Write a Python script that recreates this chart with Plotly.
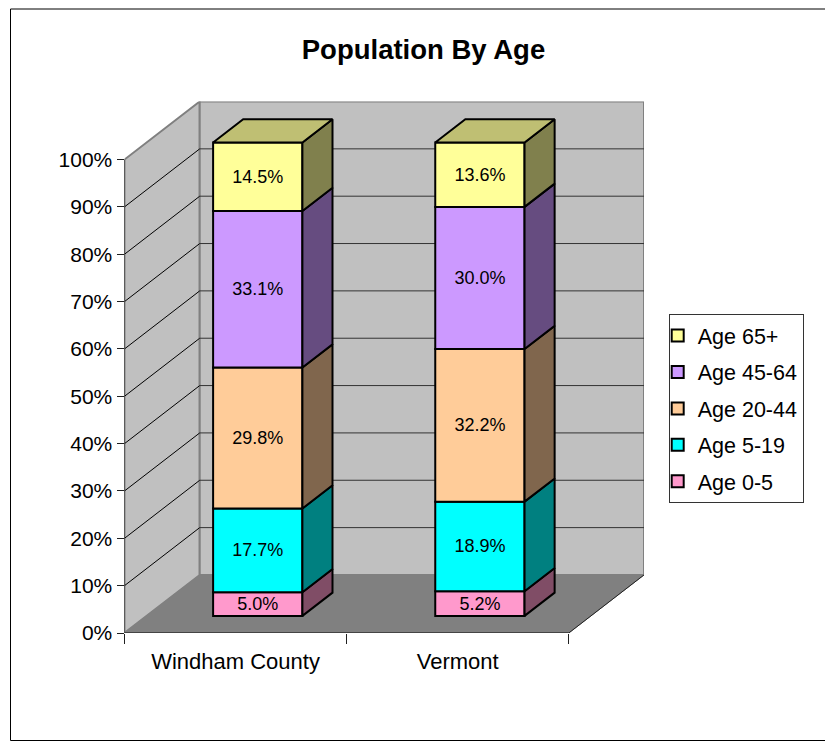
import plotly.graph_objects as go

W, H = 825, 741

# ---- data ----
regions = ["Windham County", "Vermont"]
age_groups = ["Age 0-5", "Age 5-19", "Age 20-44", "Age 45-64", "Age 65+"]
windham = [5.0, 17.7, 29.8, 33.1, 14.5]
vermont = [5.2, 18.9, 32.2, 30.0, 13.6]
pct_ticks = [0, 10, 20, 30, 40, 50, 60, 70, 80, 90, 100]
pct_labels = [f"{t}%" for t in pct_ticks]

# ---- colours ----
front_colors = ["#FF99CC", "#00FFFF", "#FFCC99", "#CC99FF", "#FFFF99"]
side_colors = ["#804D66", "#008080", "#80664D", "#664C80", "#80804D"]
top_color = "#BFBF73"
wall_color = "#C0C0C0"
floor_color = "#808080"
FONT = "Liberation Sans, Arial, sans-serif"

# ---- oblique projection of the 3-D look, in axis units ----
DX, DY = 0.3386, 12.26      # shift of the full chart depth
BAR_W = 0.402
BAR_D0, BAR_D1 = 0.295, 0.695
n = len(regions)


def proj(x, v, d):
    return x + d * DX, v + d * DY


series = [windham, vermont]
cums = []     # per region, normalised boundaries (100% stacked)
for vals in series:
    total = sum(vals)
    c = [0.0]
    for v in vals:
        c.append(c[-1] + v / total * 100)
    cums.append(c)

shapes = []


def poly(points, fill, line="#808080", lw=2):
    path = "M" + "L".join(f"{x},{y}" for x, y in points) + "Z"
    shapes.append(dict(type="path", path=path, xref="x", yref="y", layer="below",
                       fillcolor=fill, line=dict(color=line, width=lw)))


def seg(p, q, color="#000000", lw=1):
    shapes.append(dict(type="line", xref="x", yref="y", layer="below",
                       x0=p[0], y0=p[1], x1=q[0], y1=q[1], line=dict(color=color, width=lw)))


# walls and floor
poly([proj(0, 0, 0), proj(0, 100, 0), proj(0, 100, 1), proj(0, 0, 1)], wall_color)
poly([proj(0, 0, 1), proj(0, 100, 1), proj(n, 100, 1), proj(n, 0, 1)], wall_color)
poly([proj(0, 0, 0), proj(0, 0, 1), proj(n, 0, 1), proj(n, 0, 0)], floor_color, lw=1)
for t in pct_ticks[1:-1]:
    seg(proj(0, t, 0), proj(0, t, 1), "#000000", 1)
    seg(proj(0, t, 1), proj(n, t, 1), "#333333", 1)
seg(proj(0, 0, 0), proj(0, 100, 0), "#000000", 1)
seg(proj(0, 0, 0), proj(n, 0, 0), "#303030", 1.5)
seg(proj(n, 0, 0), proj(n, 0, 1), "#202020", 1)

fig = go.Figure()

# front faces: stacked bars
x_front = [i + 0.5 + BAR_D0 * DX for i in range(n)]
for k, name in enumerate(age_groups):
    vals = [cums[i][k + 1] - cums[i][k] for i in range(n)]
    base = [cums[i][k] + BAR_D0 * DY for i in range(n)]
    fig.add_trace(go.Bar(
        x=x_front, y=vals, base=base, width=BAR_W, name=name, legendgroup=name,
        legendrank=100 - k,
        marker=dict(color=front_colors[k], line=dict(color="#000000", width=2)),
        text=[f"{series[i][k]:.1f}%" for i in range(n)],
        textposition="inside", insidetextanchor="middle", textangle=0,
        constraintext="none", insidetextfont=dict(color="#000000", size=18, family=FONT),
        hoverinfo="skip",
    ))

# side faces
for k in range(len(age_groups)):
    xs, ys = [], []
    for i in range(n):
        r = i + 0.5 + BAR_W / 2
        for v, d in [(cums[i][k], BAR_D0), (cums[i][k + 1], BAR_D0),
                     (cums[i][k + 1], BAR_D1), (cums[i][k], BAR_D1), (cums[i][k], BAR_D0)]:
            px, py = proj(r, v, d)
            xs.append(px)
            ys.append(py)
        xs.append(None)
        ys.append(None)
    fig.add_trace(go.Scatter(x=xs, y=ys, mode="lines", fill="toself", fillcolor=side_colors[k],
                             line=dict(color="#000000", width=2), showlegend=False,
                             hoverinfo="skip"))

# top faces
xs, ys = [], []
for i in range(n):
    l, r = i + 0.5 - BAR_W / 2, i + 0.5 + BAR_W / 2
    top = cums[i][-1]
    for x, d in [(l, BAR_D0), (r, BAR_D0), (r, BAR_D1), (l, BAR_D1), (l, BAR_D0)]:
        px, py = proj(x, top, d)
        xs.append(px)
        ys.append(py)
    xs.append(None)
    ys.append(None)
fig.add_trace(go.Scatter(x=xs, y=ys, mode="lines", fill="toself", fillcolor=top_color,
                         line=dict(color="#000000", width=2), showlegend=False,
                         hoverinfo="skip"))

# outer chart frame (runs off the right edge as in the source picture)
shapes.append(dict(type="rect", xref="paper", yref="paper", layer="below",
                   x0=10.5 / W, x1=840 / W, y0=1 - 740.5 / H, y1=1 - 9 / H,
                   line=dict(color="#000000", width=1), fillcolor="rgba(0,0,0,0)"))

fig.update_layout(
    width=W, height=H, autosize=False,
    margin=dict(l=0, r=0, t=0, b=0, autoexpand=False),
    paper_bgcolor="#FFFFFF", plot_bgcolor="rgba(0,0,0,0)",
    barmode="overlay", hovermode=False,
    font=dict(family=FONT, color="#000000", size=21),
    title=dict(text="<b>Population By Age</b>", x=423.5 / W, xanchor="center",
               y=1 - 49 / H, yanchor="middle", font=dict(size=27.5, family=FONT, color="#000000")),
    xaxis=dict(domain=[124.5 / W, 644 / W], range=[0, n + DX], showgrid=False, zeroline=False,
               showline=False, tickmode="array", tickvals=[i + 0.5 for i in range(n)],
               ticktext=regions, ticks="", ticklabelstandoff=13,
               minor=dict(tickmode="array", tickvals=list(range(n + 1)), ticks="outside",
                          ticklen=10, tickcolor="#202020", tickwidth=1, showgrid=False),
               tickfont=dict(size=22, family=FONT, color="#000000"), fixedrange=True),
    yaxis=dict(domain=[1 - 633 / H, 1 - 101.5 / H], range=[0, 100 + DY], showgrid=False,
               zeroline=False, showline=False, tickmode="array", tickvals=pct_ticks,
               ticktext=pct_labels, ticks="outside", ticklen=7, tickcolor="#202020", tickwidth=1,
               tickfont=dict(size=21, family=FONT, color="#000000"), fixedrange=True),
    legend=dict(x=668.7 / W, xanchor="left", y=1 - 314 / H, yanchor="top",
                traceorder="grouped", tracegroupgap=5.5, indentation=-12,
                bgcolor="#FFFFFF", bordercolor="#333333", borderwidth=1,
                font=dict(size=21.5, family=FONT, color="#000000")),
    shapes=shapes,
)

fig.write_html("out.html", config={"displayModeBar": False},
               post_script="document.body.style.margin='0';document.body.style.overflow='hidden';")
